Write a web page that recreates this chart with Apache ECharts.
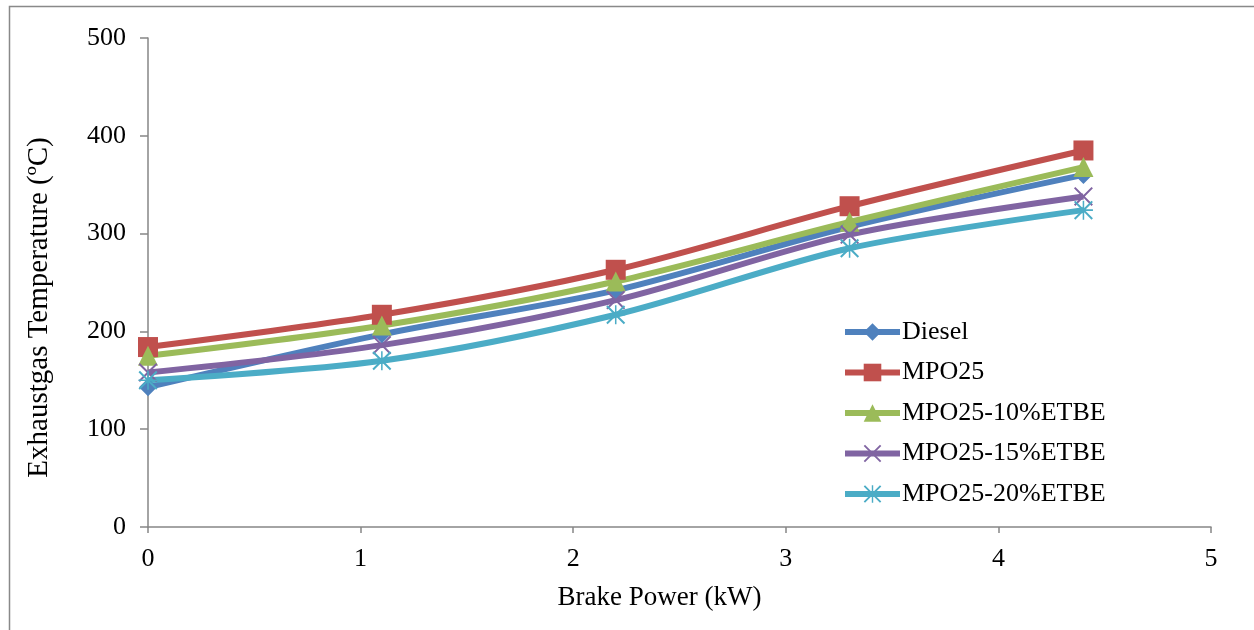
<!DOCTYPE html>
<html>
<head>
<meta charset="utf-8">
<script src="https://cdn.jsdelivr.net/npm/echarts@6/dist/echarts.min.js"></script>
<style>
  html, body { margin: 0; padding: 0; background: #fff; }
  #main { width: 1254px; height: 630px; }
</style>
</head>
<body>
<div id="main"></div>
<script>
// brake power (kW)
var power = [0, 1.1, 2.2, 3.3, 4.4];
var yTicks = [0, 100, 200, 300, 400, 500];

// exhaust gas temperature (ºC)
var diesel = [143, 197, 242, 307, 360];
var mpo25 = [184, 217, 263, 328, 385];
var etbe10 = [175, 206, 251, 312, 368];
var etbe15 = [158, 186, 232, 299, 338];
var etbe20 = [150, 170, 217, 285, 324];

var names = ['Diesel', 'MPO25', 'MPO25-10%ETBE', 'MPO25-15%ETBE', 'MPO25-20%ETBE'];
var colors = ['#4F81BD', '#C0504D', '#9BBB59', '#8064A2', '#4BACC6'];

var crossPath = 'path://M0,1.5 L1.5,0 L10,8.5 L18.5,0 L20,1.5 L11.5,10 L20,18.5 L18.5,20 L10,11.5 L1.5,20 L0,18.5 L8.5,10 Z';
var starPath = 'path://M0,1.5 L1.5,0 L10,8.5 L18.5,0 L20,1.5 L11.5,10 L20,18.5 L18.5,20 L10,11.5 L1.5,20 L0,18.5 L8.5,10 Z M9.2,0 L10.8,0 L10.8,20 L9.2,20 Z M0,9.2 L20,9.2 L20,10.8 L0,10.8 Z';
var symbols = ['diamond', 'rect', 'triangle', crossPath, starPath];
var sizes = [18, 20, 20, 19, 19];

function pairs(ys) {
  return power.map(function (x, i) { return [x, ys[i]]; });
}

var allData = [diesel, mpo25, etbe10, etbe15, etbe20];

var series = allData.map(function (ys, i) {
  return {
    name: names[i],
    type: 'line',
    smooth: 0.3,
    data: pairs(ys),
    symbol: symbols[i],
    symbolSize: sizes[i],
    lineStyle: { width: 6, color: colors[i] },
    itemStyle: { color: colors[i] }
  };
});

var font = '"Liberation Serif", "Times New Roman", serif';

var chart = echarts.init(document.getElementById('main'));
chart.setOption({
  animation: false,
  textStyle: { fontFamily: font },
  graphic: [{
    type: 'rect',
    shape: { x: 9.5, y: 6.5, width: 1300, height: 700 },
    style: { fill: 'none', stroke: '#898989', lineWidth: 1.5 },
    silent: true
  }],
  grid: { left: 148, right: 43, top: 38, bottom: 103, containLabel: false },
  legend: {
    orient: 'vertical',
    left: 837,
    top: 314,
    itemWidth: 55,
    itemHeight: 22,
    itemGap: 14.5,
    lineStyle: { width: 6 },
    textStyle: { fontFamily: font, fontSize: 26, color: '#000', padding: [0, 0, 0, -3] },
    data: names
  },
  xAxis: {
    type: 'value',
    min: 0,
    max: 5,
    interval: 1,
    name: 'Brake Power (kW)',
    nameLocation: 'middle',
    nameGap: 57,
    nameTextStyle: { fontFamily: font, fontSize: 27, color: '#000', padding: [0, 40, 0, 0] },
    axisLine: { lineStyle: { color: '#868686', width: 1.5 } },
    axisTick: { show: true, length: 6, lineStyle: { color: '#868686', width: 1.5 } },
    axisLabel: { fontFamily: font, fontSize: 26, color: '#000', margin: 19 },
    splitLine: { show: false }
  },
  yAxis: {
    type: 'value',
    min: yTicks[0],
    max: yTicks[yTicks.length - 1],
    interval: 100,
    name: 'Exhaustgas Temperature (ºC)',
    nameLocation: 'middle',
    nameGap: 94,
    nameTextStyle: { fontFamily: font, fontSize: 29, color: '#000', padding: [0, 50, 0, 0] },
    axisLine: { show: true, lineStyle: { color: '#868686', width: 1.5 } },
    axisTick: { show: true, length: 8, lineStyle: { color: '#868686', width: 1.5 } },
    axisLabel: { fontFamily: font, fontSize: 26, color: '#000', margin: 22 },
    splitLine: { show: false }
  },
  series: series
});
</script>
</body>
</html>
